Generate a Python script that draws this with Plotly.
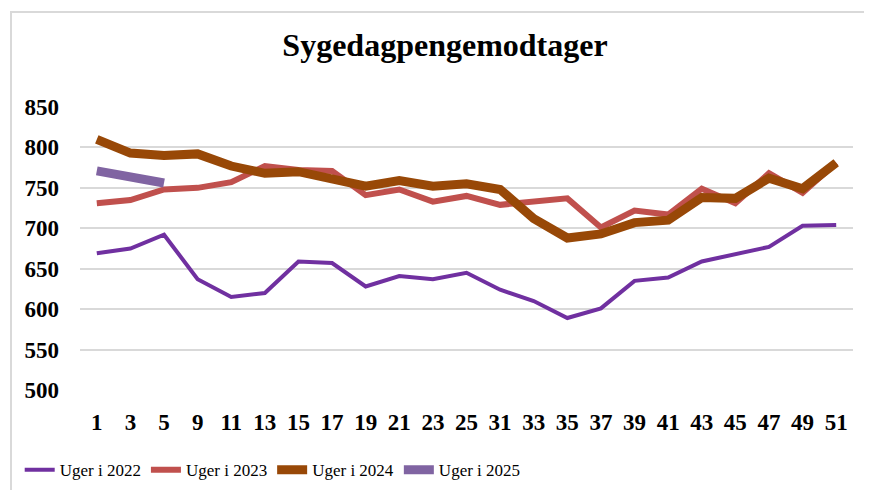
import plotly.graph_objects as go

weeks = ["1", "3", "5", "9", "11", "13", "15", "17", "19", "21", "23", "25",
         "31", "33", "35", "37", "39", "41", "43", "45", "47", "49", "51"]
y2022 = [669, 675, 692, 637, 615, 620, 659, 657, 628, 641, 637, 645,
         624, 610, 589, 601, 635, 639, 659, 668, 677, 703, 704]
y2023 = [731, 735, 748, 750, 757, 777, 772, 771, 741, 748, 733, 740,
         729, 733, 737, 701, 722, 717, 749, 731, 768, 744, 781]
y2024 = [810, 793, 790, 792, 777, 768, 770, 762, 752, 759, 752, 755,
         748, 712, 688, 693, 707, 710, 738, 737, 762, 749, 781]
y2025 = [771, 764, 756]
series_names = ["Uger i 2022", "Uger i 2023", "Uger i 2024", "Uger i 2025"]
y_ticks = [500, 550, 600, 650, 700, 750, 800, 850]

colors = ["#7030A0", "#C0504D", "#984807", "#8064A2"]
widths = [4, 6, 9, 9]

fig = go.Figure()
for name, ys, c, w in zip(series_names, [y2022, y2023, y2024, y2025], colors, widths):
    fig.add_trace(go.Scatter(x=weeks[:len(ys)], y=ys, name=name, mode="lines",
                             line=dict(color=c, width=w)))

# page body has an 8px margin, so the figure is 856x482 and offset by 8px
W, H = 856, 482
serif = "Liberation Serif"
fig.update_layout(
    width=W, height=H,
    paper_bgcolor="white", plot_bgcolor="white",
    margin=dict(l=72, r=11, t=99, b=100, autoexpand=False),
    title=dict(text="<b>Sygedagpengemodtager</b>", x=437/W, xanchor="center",
               y=1 - 37/H, yanchor="middle",
               font=dict(family=serif, size=32, color="black")),
    xaxis=dict(type="category", range=[-0.5, 22.5], showgrid=False, zeroline=False,
               showline=False,
               tickfont=dict(family=serif, size=23, color="black", weight="bold"),
               ticks="", ticklabelstandoff=16),
    yaxis=dict(range=[500, 850], tickvals=y_ticks, showgrid=True,
               gridcolor="#D9D9D9", gridwidth=2, zeroline=False, showline=False,
               tickfont=dict(family=serif, size=23, color="black", weight="bold"),
               ticks="", ticklabelstandoff=20),
    legend=dict(orientation="h", x=-0.078, xanchor="left", y=-0.283, yanchor="middle",
                font=dict(family=serif, size=17, color="black"),
                itemwidth=30, bgcolor="rgba(0,0,0,0)"),
    showlegend=True,
    shapes=[dict(type="rect", xref="paper", yref="paper",
                 x0=-69/773, x1=1.2, y0=-0.5, y1=(390-12)/283,
                 line=dict(color="#D9D9D9", width=2), fillcolor="rgba(0,0,0,0)",
                 layer="below")],
)

fig.write_html("out.html")
